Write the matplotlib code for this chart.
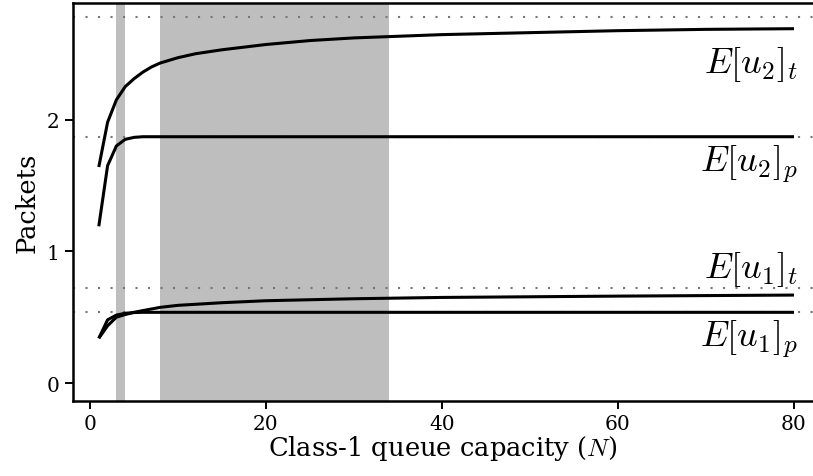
import numpy as np
import matplotlib
matplotlib.use("Agg")
import matplotlib.pyplot as plt

plt.rcParams["font.family"] = "DejaVu Serif"
plt.rcParams["mathtext.fontset"] = "cm"

# --- curves (N = class-1 queue capacity) ---
n_u2t = [1, 2, 3, 4, 5, 6, 7, 8, 10, 12, 15, 20, 25, 30, 40, 50, 60, 70, 80]
u2_t = [1.64, 1.98, 2.15, 2.25, 2.31, 2.36, 2.40, 2.43, 2.47, 2.50, 2.53,
        2.57, 2.60, 2.62, 2.645, 2.66, 2.675, 2.685, 2.69]

n_u2p = [1, 2, 3, 4, 5, 6, 10, 20, 40, 80]
u2_p = [1.19, 1.65, 1.80, 1.85, 1.865, 1.87, 1.87, 1.87, 1.87, 1.87]

n_u1t = [1, 2, 3, 4, 5, 6, 8, 10, 15, 20, 30, 40, 60, 80]
u1_t = [0.34, 0.435, 0.50, 0.52, 0.537, 0.55, 0.575, 0.59, 0.61, 0.625,
        0.64, 0.65, 0.66, 0.668]

n_u1p = [1, 2, 3, 4, 5, 6, 10, 20, 40, 80]
u1_p = [0.34, 0.48, 0.516, 0.53, 0.535, 0.537, 0.537, 0.537, 0.537, 0.537]

# asymptotic limits (dotted)
limits = [2.78, 1.87, 0.72, 0.537]

# shaded N ranges
spans = [(3, 4), (8, 34)]

labels = [r"$E[u_2]_t$", r"$E[u_2]_p$", r"$E[u_1]_t$", r"$E[u_1]_p$"]
label_y = [2.36, 1.61, 0.805, 0.28]

fig = plt.figure(figsize=(8.13, 4.77), dpi=100)
ax = fig.add_axes([0.0898, 0.157, 0.9102, 0.8346])

for a, b in spans:
    ax.axvspan(a, b, color="#bebebe", lw=0)

for y in limits:
    ax.axhline(y, color="#777777", lw=1.5, ls=(0, (1, 5)))

for n, v in [(n_u2t, u2_t), (n_u2p, u2_p), (n_u1t, u1_t), (n_u1p, u1_p)]:
    ax.plot(n, v, color="black", lw=2.2, solid_capstyle="butt")

for lab, y in zip(labels, label_y):
    ax.text(80.5, y, lab, ha="right", va="baseline", fontsize=26)

ax.set_xlim(-1.93, 82.16)
ax.set_ylim(-0.137, 2.885)
ax.set_xticks([0, 20, 40, 60, 80])
ax.set_yticks([0, 1, 2])

ax.spines["right"].set_visible(False)
for s in ["left", "bottom", "top"]:
    ax.spines[s].set_linewidth(1.8)
ax.tick_params(direction="out", length=6, width=1.4, labelsize=14.5)

ax.set_xlabel(r"Class-1 queue capacity ($N$)", fontsize=18.5, labelpad=0)
ax.set_ylabel("Packets", fontsize=18.5, labelpad=5)

fig.savefig("out.png", dpi=100)
